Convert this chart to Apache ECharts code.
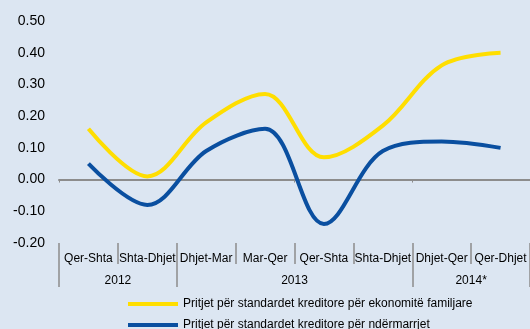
<!DOCTYPE html>
<html>
<head>
<meta charset="utf-8">
<script src="https://cdn.jsdelivr.net/npm/echarts@6/dist/echarts.min.js"></script>
<style>
  html, body { margin: 0; padding: 0; background: #DCE6F2; }
  #chart { width: 530px; height: 329px; }
</style>
</head>
<body>
<div id="chart"></div>
<script>
// Periods (half-year windows) and the year groups they belong to
const periods = ['Qer-Shta', 'Shta-Dhjet', 'Dhjet-Mar', 'Mar-Qer', 'Qer-Shta', 'Shta-Dhjet', 'Dhjet-Qer', 'Qer-Dhjet'];
const years = ['2012', '2013', '2014*'];
const yearBounds = [0, 2, 6, 8];      // period index where each year group starts / ends
const yearCenters = [1, 4, 7];        // middle of each year group

// Expected credit standards
const households = [0.16, 0.01, 0.18, 0.27, 0.07, 0.17, 0.36, 0.40];
const enterprises = [0.05, -0.08, 0.09, 0.16, -0.14, 0.09, 0.12, 0.10];

const seriesNames = [
  'Pritjet për standardet kreditore për ekonomitë familjare',
  'Pritjet për standardet kreditore për ndërmarrjet'
];
const seriesColors = ['#FFDE00', '#0A4FA0'];

const FONT = 'Liberation Sans, Arial, sans-serif';
const chart = echarts.init(document.getElementById('chart'), null, { renderer: 'canvas' });

// one legend row per series, stacked under the axis
const legendRow = (name, top) => ({
  left: 128,
  top: top,
  padding: 0,
  itemWidth: 50,
  itemHeight: 4,
  icon: 'rect',
  textStyle: { fontFamily: FONT, fontSize: 12, color: '#000' },
  data: [name]
});

chart.setOption({
  backgroundColor: '#DCE6F2',
  animation: false,
  textStyle: { fontFamily: FONT },
  grid: { left: 59, right: 0, top: 21, bottom: 86, containLabel: false },
  legend: [legendRow(seriesNames[0], 298), legendRow(seriesNames[1], 319)],
  xAxis: [
    {
      // zero line with small boundary ticks
      type: 'category',
      data: periods,
      boundaryGap: true,
      axisLine: { onZero: true, lineStyle: { color: '#8C8C8C', width: 2 } },
      axisTick: { show: true, length: 3, lineStyle: { color: '#8C8C8C', width: 1 } },
      axisLabel: { show: false },
      splitLine: { show: false }
    },
    {
      // period labels with separators below the plot
      type: 'category',
      data: periods,
      position: 'bottom',
      boundaryGap: true,
      axisLine: { show: false, onZero: false },
      axisTick: { show: true, length: 21, lineStyle: { color: '#8C8C8C', width: 1.5 } },
      axisLabel: { margin: 10, fontFamily: FONT, fontSize: 12, color: '#000', interval: 0 },
      splitLine: { show: false }
    },
    {
      // year groups
      type: 'value',
      min: 0,
      max: 8,
      position: 'bottom',
      axisLine: { show: false, onZero: false },
      axisTick: {
        show: true, length: 44, customValues: yearBounds,
        lineStyle: { color: '#8C8C8C', width: 1.5 }
      },
      axisLabel: {
        customValues: yearCenters,
        margin: 32,
        fontFamily: FONT, fontSize: 12, color: '#000',
        formatter: v => years[yearCenters.indexOf(v)] || ''
      },
      splitLine: { show: false }
    }
  ],
  yAxis: {
    type: 'value',
    min: -0.2,
    max: 0.5,
    interval: 0.1,
    axisLine: { show: false },
    axisTick: { show: false },
    splitLine: { show: false },
    axisLabel: {
      margin: 14,
      fontFamily: FONT, fontSize: 14, color: '#000',
      formatter: v => v.toFixed(2)
    }
  },
  series: [households, enterprises].map((values, i) => ({
    name: seriesNames[i],
    type: 'line',
    xAxisIndex: 0,
    data: values,
    smooth: 0.35,
    symbol: 'none',
    lineStyle: { color: seriesColors[i], width: 4 },
    itemStyle: { color: seriesColors[i] }
  }))
});
</script>
</body>
</html>
